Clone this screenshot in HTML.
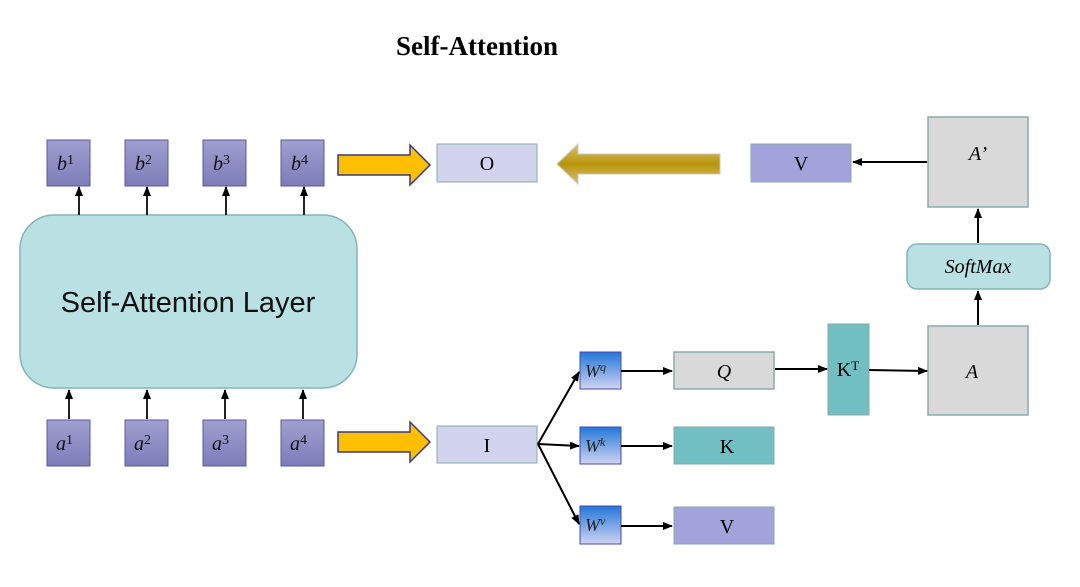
<!DOCTYPE html>
<html><head><meta charset="utf-8"><style>body{margin:0;background:#fff}svg{display:block}</style></head><body>
<svg width="1080" height="587" viewBox="0 0 1080 587" xmlns="http://www.w3.org/2000/svg" font-family="Liberation Serif, serif">
<defs>
<marker id="ah" markerWidth="10" markerHeight="8" refX="9" refY="4" orient="auto" markerUnits="userSpaceOnUse"><path d="M0,0 L10,4 L0,8 z" fill="#000"/></marker>
<linearGradient id="pb" x1="0" y1="0" x2="0" y2="1"><stop offset="0" stop-color="#a09fcf"/><stop offset="1" stop-color="#7e7cb8"/></linearGradient>
<linearGradient id="wb" x1="0" y1="0" x2="0" y2="1"><stop offset="0" stop-color="#2277d8"/><stop offset="1" stop-color="#d0d4f2"/></linearGradient>
<linearGradient id="ol" x1="0" y1="0" x2="0" y2="1"><stop offset="0" stop-color="#d8c070"/><stop offset="0.5" stop-color="#b8960a"/><stop offset="1" stop-color="#d8c070"/></linearGradient>
</defs>
<text x="477" y="55" text-anchor="middle" font-size="27" font-weight="bold">Self-Attention</text>
<g stroke="#5a58a0" stroke-width="1" fill="url(#pb)">
<rect x="47" y="140" width="43" height="46"/><rect x="125" y="140" width="43" height="46"/><rect x="203" y="140" width="43" height="46"/><rect x="281" y="140" width="43" height="46"/>
<rect x="47" y="420" width="43" height="46"/><rect x="125" y="420" width="43" height="46"/><rect x="203" y="420" width="43" height="46"/><rect x="281" y="420" width="43" height="46"/>
</g>
<g font-size="20" font-style="italic" fill="#111">
<text x="57" y="170">b<tspan font-style="normal" font-size="14" dy="-6">1</tspan></text>
<text x="135" y="170">b<tspan font-style="normal" font-size="14" dy="-6">2</tspan></text>
<text x="213" y="170">b<tspan font-style="normal" font-size="14" dy="-6">3</tspan></text>
<text x="291" y="170">b<tspan font-style="normal" font-size="14" dy="-6">4</tspan></text>
<text x="56" y="450">a<tspan font-style="normal" font-size="14" dy="-6">1</tspan></text>
<text x="134" y="450">a<tspan font-style="normal" font-size="14" dy="-6">2</tspan></text>
<text x="212" y="450">a<tspan font-style="normal" font-size="14" dy="-6">3</tspan></text>
<text x="290" y="450">a<tspan font-style="normal" font-size="14" dy="-6">4</tspan></text>
</g>
<rect x="20" y="215" width="337" height="173" rx="34" fill="#b9e0e2" stroke="#86b5b8" stroke-width="1.5"/>
<text x="188" y="312" text-anchor="middle" font-family="Liberation Sans, sans-serif" font-size="29" fill="#111">Self-Attention Layer</text>
<g stroke="#222" stroke-width="2" marker-end="url(#ah)">
<line x1="79" y1="215" x2="79" y2="187"/><line x1="147" y1="215" x2="147" y2="187"/><line x1="226" y1="215" x2="226" y2="187"/><line x1="304" y1="215" x2="304" y2="187"/>
<line x1="69" y1="419" x2="69" y2="390"/><line x1="147" y1="419" x2="147" y2="390"/><line x1="225" y1="419" x2="225" y2="390"/><line x1="303" y1="419" x2="303" y2="390"/>
</g>
<path d="M338,155 H410 V145 L430,165 L410,185 V175 H338 Z" fill="#fdbf00" stroke="#3a3a80" stroke-width="1.5"/>
<path d="M338,432 H410 V422 L430,442 L410,462 V452 H338 Z" fill="#fdbf00" stroke="#3a3a80" stroke-width="1.5"/>
<path d="M720,154 H578 V144 L557,164 L578,184 V174 H720 Z" fill="url(#ol)" stroke="#c8c8c8" stroke-width="1"/>
<rect x="437" y="144" width="100" height="38" fill="#d2d4ee" stroke="#8aaaaa"/>
<text x="487" y="170" text-anchor="middle" font-size="20">O</text>
<rect x="751" y="144" width="100" height="38" fill="#a3a3dc" stroke="#8aaaaa"/>
<text x="801" y="170" text-anchor="middle" font-size="20">V</text>
<rect x="928" y="117" width="100" height="90" fill="#d9d9d9" stroke="#8aaaaa" stroke-width="1.5"/>
<text x="978" y="160" text-anchor="middle" font-size="20" font-style="italic">A’</text>
<rect x="907" y="244" width="143" height="45" rx="10" fill="#b9e0e2" stroke="#86b5b8" stroke-width="1.5"/>
<text x="978" y="273" text-anchor="middle" font-size="20" font-style="italic">SoftMax</text>
<rect x="928" y="326" width="100" height="89" fill="#d9d9d9" stroke="#8aaaaa" stroke-width="1.5"/>
<text x="972" y="378" text-anchor="middle" font-size="20" font-style="italic">A</text>
<rect x="828" y="324" width="41" height="91" fill="#72bfc3" stroke="#8aaaaa"/>
<text x="848" y="376" text-anchor="middle" font-size="20">K<tspan font-size="13" dy="-6">T</tspan></text>
<rect x="674" y="352" width="100" height="37" fill="#d9d9d9" stroke="#8aaaaa" stroke-width="1.5"/>
<text x="724" y="378" text-anchor="middle" font-size="20" font-style="italic">Q</text>
<rect x="674" y="427" width="100" height="37" fill="#72bfc3" stroke="#8aaaaa"/>
<text x="727" y="453" text-anchor="middle" font-size="20">K</text>
<rect x="674" y="507" width="100" height="37" fill="#a3a3dc" stroke="#8aaaaa"/>
<text x="727" y="533" text-anchor="middle" font-size="20">V</text>
<rect x="437" y="426" width="100" height="37" fill="#d2d4ee" stroke="#8aaaaa"/>
<text x="487" y="452" text-anchor="middle" font-size="20">I</text>
<g stroke="#4a48a8" fill="url(#wb)">
<rect x="580" y="352" width="41" height="37"/><rect x="580" y="427" width="41" height="37"/><rect x="580" y="506" width="41" height="38"/>
</g>
<g font-size="18" font-style="italic" fill="#222">
<text x="585" y="377">W<tspan font-size="12" dy="-6">q</tspan></text>
<text x="585" y="452">W<tspan font-size="12" dy="-6">k</tspan></text>
<text x="585" y="531">W<tspan font-size="12" dy="-6">v</tspan></text>
</g>
<g stroke="#000" stroke-width="2" marker-end="url(#ah)">
<line x1="538" y1="444" x2="579" y2="372"/>
<line x1="538" y1="444" x2="579" y2="446"/>
<line x1="538" y1="444" x2="579" y2="524"/>
<line x1="621" y1="371" x2="672" y2="371"/>
<line x1="621" y1="446" x2="672" y2="446"/>
<line x1="621" y1="526" x2="672" y2="526"/>
<line x1="775" y1="369" x2="827" y2="369"/>
<line x1="869" y1="370" x2="927" y2="371"/>
<line x1="978" y1="325" x2="978" y2="291"/>
<line x1="978" y1="243" x2="978" y2="209"/>
<line x1="927" y1="162" x2="853" y2="162"/>
</g>
</svg>
</body></html>
